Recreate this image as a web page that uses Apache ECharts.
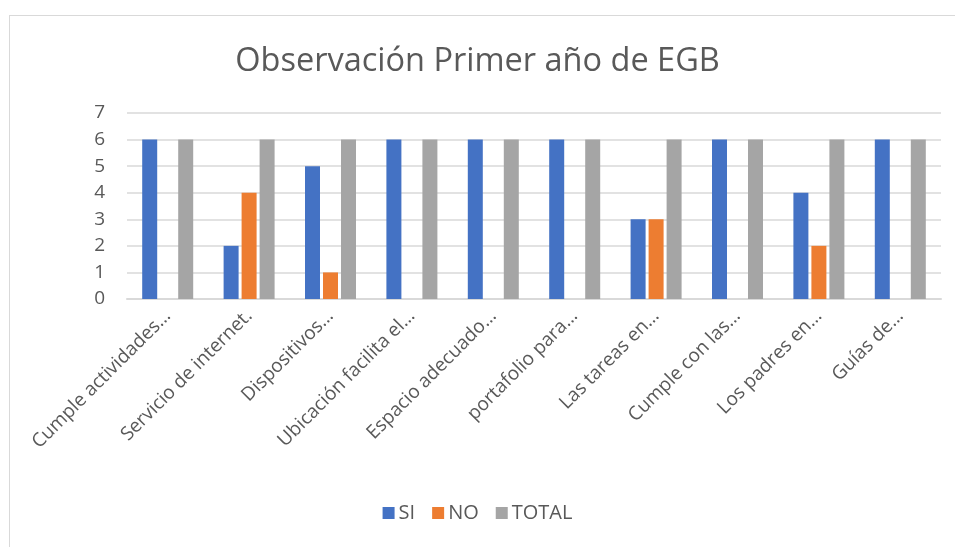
<!DOCTYPE html>
<html>
<head>
<meta charset="utf-8">
<script src="https://cdn.jsdelivr.net/npm/echarts@6/dist/echarts.min.js"></script>
<style>
html,body{margin:0;padding:0;background:#fff;}
#frame{position:absolute;left:9px;top:15px;width:960px;height:560px;border:1.5px solid #d9d9d9;box-sizing:border-box;}
#chart{position:absolute;left:0;top:0;width:955px;height:547px;}
</style>
</head>
<body>
<div id="frame"></div>
<div id="chart"></div>
<script>
var categories = ["Cumple actividades…","Servicio de internet.","Dispositivos…","Ubicación facilita el…","Espacio adecuado…","portafolio para…","Las tareas en…","Cumple con las…","Los padres en…","Guías de…"];
var siValues = [6,2,5,6,6,6,3,6,4,6];
var noValues = [0,4,1,0,0,0,3,0,2,0];
var totalValues = [6,6,6,6,6,6,6,6,6,6];
var yTicks = [0,1,2,3,4,5,6,7];

var chart = echarts.init(document.getElementById('chart'), null, {renderer:'canvas'});
var font = "'Open Sans', 'Noto Sans', sans-serif";
function bar(name, data, color){
  return {name:name, type:'bar', data:data, barWidth:15, barGap:'20%', itemStyle:{color:color}, emphasis:{disabled:true}};
}
chart.setOption({
  animation:false,
  textStyle:{fontFamily:font},
  title:{text:'Observación Primer año de EGB', left:'center', top:40,
    textStyle:{fontFamily:font, fontSize:32.5, fontWeight:'normal', color:'#595959'}},
  grid:{left:127, right:14, top:113, bottom:248},
  legend:{bottom:19, left:'center', itemWidth:12, itemHeight:12, itemGap:17, icon:'rect',
    textStyle:{fontFamily:font, fontSize:20, color:'#595959', padding:[0,0,0,-1]},
    data:['SI','NO','TOTAL']},
  xAxis:{type:'category', data:categories,
    axisLine:{lineStyle:{color:'#d9d9d9', width:2}},
    axisTick:{show:false},
    axisLabel:{rotate:45, interval:0, margin:14, fontSize:19, color:'#595959', fontFamily:font}},
  yAxis:{type:'value', min:yTicks[0], max:yTicks[yTicks.length-1], interval:1,
    axisLine:{show:false}, axisTick:{show:false},
    splitLine:{lineStyle:{color:'#d9d9d9', width:1.5}},
    axisLabel:{fontSize:19, color:'#595959', margin:22, fontFamily:font}},
  series:[bar('SI', siValues, '#4472c4'), bar('NO', noValues, '#ed7d31'), bar('TOTAL', totalValues, '#a5a5a5')]
});
</script>
</body>
</html>
